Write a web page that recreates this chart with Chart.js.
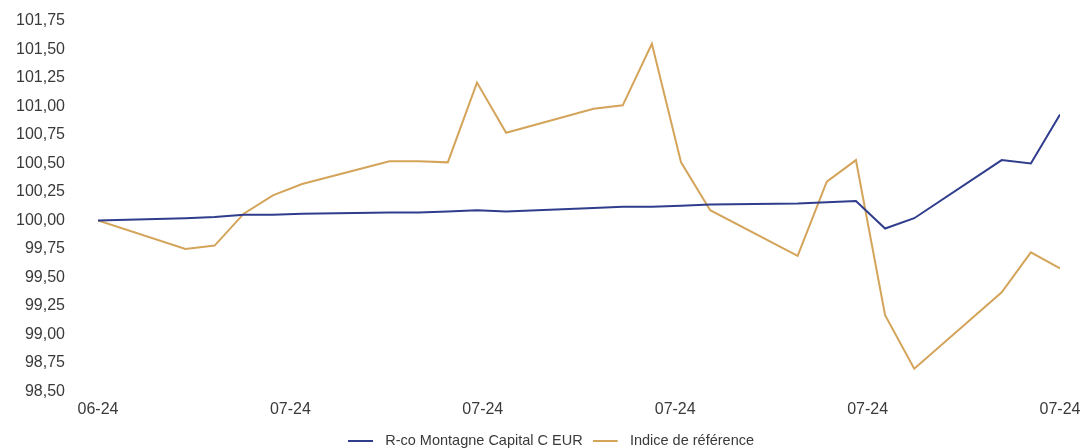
<!DOCTYPE html>
<html><head><meta charset="utf-8">
<script src="https://cdn.jsdelivr.net/npm/chart.js@4.4.1/dist/chart.umd.min.js"></script>
<style>html,body{margin:0;padding:0;background:#fff;overflow:hidden}</style>
</head><body>
<canvas id="c" width="1082" height="448"></canvas>
<script>
// ---- data ----
const dates = ['2024-06-28',
  '2024-07-01','2024-07-02','2024-07-03','2024-07-04','2024-07-05',
  '2024-07-08','2024-07-09','2024-07-10','2024-07-11','2024-07-12',
  '2024-07-15','2024-07-16','2024-07-17','2024-07-18','2024-07-19',
  '2024-07-22','2024-07-23','2024-07-24','2024-07-25','2024-07-26',
  '2024-07-29','2024-07-30','2024-07-31'];
const fundValues = [100.00,
  100.02,100.03,100.05,100.05,100.06,
  100.07,100.07,100.08,100.09,100.08,
  100.11,100.12,100.12,100.13,100.14,
  100.15,100.16,100.17,99.93,100.02,
  100.53,100.50,100.93];
const indexValues = [100.00,
  99.75,99.78,100.06,100.22,100.32,
  100.52,100.52,100.51,101.21,100.77,
  100.98,101.01,101.55,100.51,100.09,
  99.69,100.34,100.53,99.17,98.70,
  99.37,99.72,99.58];
const seriesNames = ['R-co Montagne Capital C EUR', 'Indice de référence'];
const yTickValues = [98.5,98.75,99,99.25,99.5,99.75,100,100.25,100.5,100.75,101,101.25,101.5,101.75];
const xTickLabels = ['06-24','07-24','07-24','07-24','07-24','07-24'];

// ---- build ----
const toDay = s => { const [y,m,d] = s.split('-').map(Number); return Date.UTC(y, m-1, d) / 86400000; };
const days = dates.map(toDay);
const xMin = days[0], xMax = days[days.length-1];
const pts = vals => vals.map((v,i) => ({x: days[i], y: v}));

const FONT = "'Liberation Sans', Arial, sans-serif";
const TXT = '#3a3a3a';
const BLUE = '#2f3d8c', GOLD = '#d3a45a';

// legend marker: 25px line inside a 30px wide swatch
function legendLine(color) {
  const c = document.createElement('canvas');
  c.width = 30; c.height = 2;
  const g = c.getContext('2d');
  g.fillStyle = color; g.fillRect(0, 0, 25, 2);
  return c;
}

new Chart(document.getElementById('c'), {
  type: 'line',
  data: {
    datasets: [
      {label: seriesNames[0], data: pts(fundValues), borderColor: BLUE, backgroundColor: BLUE,
       borderWidth: 2, pointRadius: 0, tension: 0, pointStyle: legendLine(BLUE)},
      {label: seriesNames[1], data: pts(indexValues), borderColor: GOLD, backgroundColor: GOLD,
       borderWidth: 2, pointRadius: 0, tension: 0, pointStyle: legendLine(GOLD)}
    ]
  },
  options: {
    responsive: false,
    animation: false,
    devicePixelRatio: 1,
    layout: {padding: {left: 16, right: -4, top: 21, bottom: -10}},
    plugins: {
      tooltip: {enabled: false},
      legend: {
        position: 'bottom',
        labels: {
          color: TXT,
          font: {family: FONT, size: 14.5},
          usePointStyle: true,
          pointStyleWidth: 30,
          padding: 10
        }
      }
    },
    scales: {
      x: {
        type: 'linear',
        min: xMin, max: xMax,
        grid: {display: false, drawTicks: false},
        border: {display: false},
        afterBuildTicks: axis => {
          axis.ticks = xTickLabels.map((_, i) => ({value: xMin + i * (xMax - xMin) / (xTickLabels.length - 1)}));
        },
        afterFit: axis => { axis.height = 32; axis.paddingLeft = 0; axis.paddingRight = 22; },
        ticks: {
          autoSkip: false, maxRotation: 0, padding: 8,
          color: TXT, font: {family: FONT, size: 16},
          callback: (v, i) => xTickLabels[i]
        }
      },
      y: {
        min: yTickValues[0], max: yTickValues[yTickValues.length-1],
        grid: {display: false, drawTicks: false},
        border: {display: false},
        afterBuildTicks: axis => { axis.ticks = yTickValues.map(v => ({value: v})); },
        afterFit: axis => { axis.width = 82; axis.paddingTop = 0; axis.paddingBottom = 0; },
        ticks: {
          padding: 33,
          color: TXT, font: {family: FONT, size: 16},
          callback: v => Number(v).toFixed(2).replace('.', ',')
        }
      }
    }
  }
});
</script>
</body></html>
